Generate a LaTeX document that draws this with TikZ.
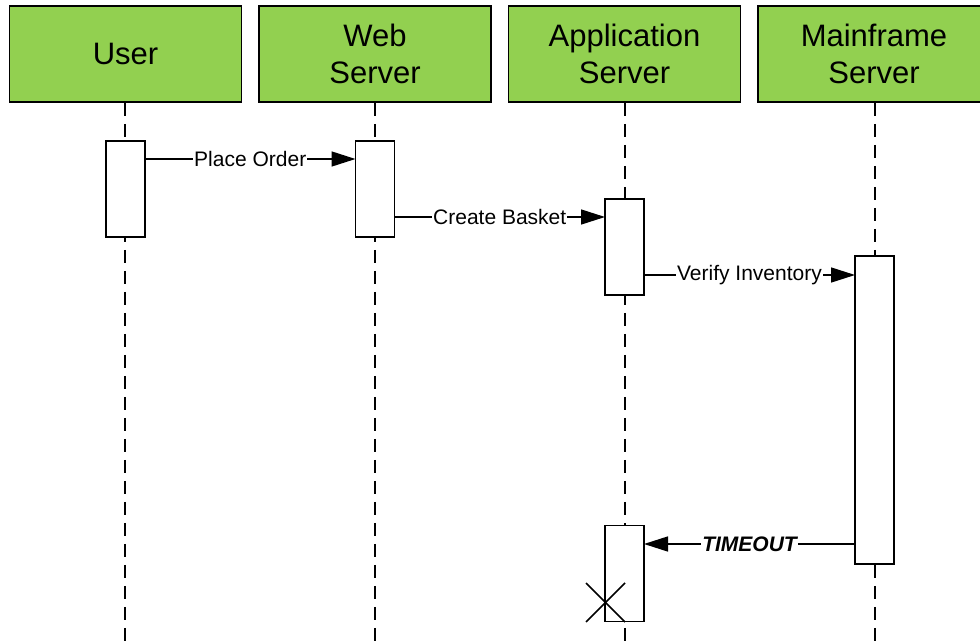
\documentclass[tikz,border=0pt]{standalone}
\usepackage{fontspec}
\setmainfont{Liberation Sans}
\usetikzlibrary{arrows.meta,calc}
\definecolor{headgreen}{HTML}{92D050}
\tikzset{
  head/.style={draw=black, line width=1.8pt, fill=headgreen, minimum width=232pt,
    minimum height=96pt, inner sep=0pt, align=center,
    font=\fontsize{31}{37}\selectfont},
  life/.style={line width=1.5pt, dash pattern=on 13pt off 8pt},
  act/.style={draw=black, line width=1.6pt, fill=white, minimum width=39pt,
    inner sep=0pt, outer sep=0pt, anchor=north},
  msg/.style={line width=1.5pt, -{Triangle[length=24pt,width=15pt]}},
  msglabel/.style={fill=white, inner xsep=1pt, inner ysep=0pt,
    font=\fontsize{21}{25}\selectfont},
  endmark/.style={line width=1.5pt}
}
\begin{document}
\begin{tikzpicture}[x=1pt, y=-1pt]
  \clip (0,0) rectangle (980,642);
  \fill[white] (0,0) rectangle (980,642);

  % participant headers
  \node[head] (user) at (125.5,54) {User};
  \node[head] (web)  at (375,54)   {Web\\Server};
  \node[head] (app)  at (624.5,54) {Application\\Server};
  \node[head] (main) at (874,54)   {Mainframe\\Server};

  % lifeline ends
  \coordinate (userend) at (125,648);
  \coordinate (webend)  at (375,648);
  \coordinate (append)  at (625,648);
  \coordinate (mainend) at (875,648);

  % lifelines
  \draw[life] (userend |- user.south) -- (userend);
  \draw[life] (webend |- web.south)   -- (webend);
  \draw[life] (append |- app.south)   -- (append);
  \draw[life] (mainend |- main.south) -- (mainend);

  % activation bars
  \node[act, minimum height=96pt]  (useract) at (125.5,141) {};
  \node[act, minimum height=96pt]  (webact)  at (375,141)   {};
  \node[act, minimum height=96pt]  (appact)  at (624.5,199) {};
  \node[act, minimum height=308pt] (mainact) at (874.5,256) {};
  \node[act, minimum height=96pt]  (append2) at (624.5,525.5) {};

  % messages
  \draw[msg] ($(useract.north east)+(0,18)$) -- node[msglabel] {Place Order}
    ($(webact.north west)+(0,18)$);
  \draw[msg] ($(webact.north east)+(0,76)$) -- node[msglabel] {Create Basket}
    ($(appact.north west)+(0,18)$);
  \draw[msg] ($(appact.north east)+(0,76)$) -- node[msglabel] {Verify Inventory}
    ($(mainact.north west)+(0,19)$);
  \draw[msg] ($(mainact.south west)+(0,-20)$) --
    node[msglabel, font=\fontsize{21}{25}\selectfont\bfseries\itshape] {TIMEOUT}
    ($(append2.north east)+(0,18.5)$);

  % destruction mark
  \coordinate (xmark) at (605.5,602.5);
  \draw[endmark] ($(xmark)+(-19.5,-19.5)$) -- ($(xmark)+(19.5,19.5)$);
  \draw[endmark] ($(xmark)+(-19.5,19.5)$) -- ($(xmark)+(19.5,-19.5)$);
\end{tikzpicture}
\end{document}
